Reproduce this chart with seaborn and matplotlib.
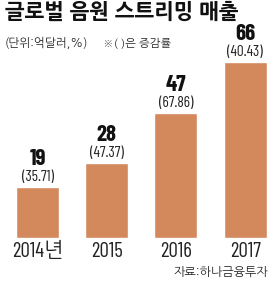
import pandas as pd
import seaborn as sns
import matplotlib.pyplot as plt

# Chart data
years = ['2014년', '2015', '2016', '2017']
sales = [19, 28, 47, 66]
growth = ['(35.71)', '(47.37)', '(67.86)', '(40.43)']

bar_color = '#D3895C'
narrow = ['Barlow Condensed', 'NanumGothic', 'DejaVu Sans']
kr = ['NanumGothic', 'Noto Sans CJK KR', 'DejaVu Sans']

sns.set_theme(style='white')
plt.rcParams['font.family'] = narrow

df = pd.DataFrame({'year': years, 'sales': sales})

fig = plt.figure(figsize=(2.75, 2.85), dpi=100)
ax = fig.add_axes([0, 47 / 285, 1, 193 / 285])

sns.barplot(data=df, x='year', y='sales', color=bar_color, width=0.62,
            saturation=1, ax=ax)

ax.set_xlim(-0.542, 3.432)
ax.set_ylim(0, 72.5)
sns.despine(ax=ax, left=True, bottom=True)
ax.set_yticks([])
ax.set_xlabel('')
ax.set_ylabel('')
ax.tick_params(axis='x', length=0, pad=3, labelsize=15, colors='#222222')
for lbl in ax.get_xticklabels():
    lbl.set_family(narrow)

# value and growth labels
for i, (v, g) in enumerate(zip(sales, growth)):
    ax.annotate(str(v), (i, v), xytext=(0, 28), textcoords='offset pixels',
                ha='center', va='center', fontsize=16.5, fontweight='bold',
                color='#111111', annotation_clip=False)
    ax.annotate(g, (i, v), xytext=(0, 10), textcoords='offset pixels',
                ha='center', va='center', fontsize=11, color='#222222',
                annotation_clip=False)

fig.text(5 / 275, 1 - 12 / 285, '글로벌 음원 스트리밍 매출', family=kr,
         fontsize=15, fontweight='heavy', color='#111111', va='center')
fig.text(5 / 275, 1 - 43 / 285, '(단위:억달러,%)', family=kr,
         fontsize=8.5, color='#222222', va='center')
fig.text(103 / 275, 1 - 43 / 285, '※( )은 증감률', family=kr,
         fontsize=8.2, color='#222222', va='center')
fig.text(268 / 275, 1 - 272 / 285, '자료:하나금융투자', family=kr,
         fontsize=8.7, color='#222222', va='center', ha='right')

fig.savefig('out.png', dpi=100)
